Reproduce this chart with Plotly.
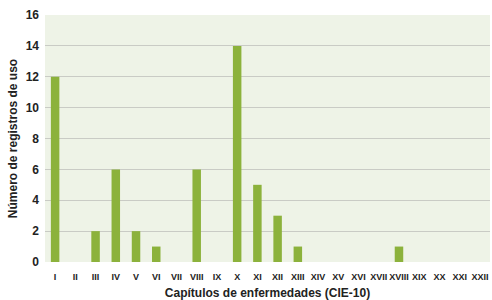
import plotly.graph_objects as go

categories = ["I","II","III","IV","V","VI","VII","VIII","IX","X","XI","XII","XIII","XIV","XV","XVI","XVII","XVIII","XIX","XX","XXI","XXII"]
values = [12,0,2,6,2,1,0,6,0,14,5,3,1,0,0,0,0,1,0,0,0,0]
y_ticks = [0,2,4,6,8,10,12,14,16]

font_fam = "Liberation Sans Narrow, Arial Narrow, Liberation Sans, Arial, sans-serif"

fig = go.Figure(go.Bar(
    x=categories, y=values,
    marker=dict(color="#8cb23c", line=dict(width=0)),
    width=0.42,
))

fig.update_layout(
    width=492, height=300,
    margin=dict(l=45, r=2, t=15, b=38),
    paper_bgcolor="white",
    plot_bgcolor="#eef3e7",
    font=dict(family=font_fam, size=11, color="#222222"),
    showlegend=False,
    xaxis=dict(
        title=dict(text="<b>Capítulos de enfermedades (CIE-10)</b>", font=dict(size=12), standoff=8),
        tickfont=dict(size=9), tickangle=0, automargin=False, ticklabelstandoff=8,
        tickmode="array", tickvals=categories, ticktext=[f"<b>{c}</b>" for c in categories],
        showgrid=False, showline=False, ticks="",
    ),
    yaxis=dict(
        title=dict(text="<b>Número de registros de uso</b>", font=dict(size=12), standoff=5),
        range=[0, 16], automargin=False, ticklabelstandoff=5,
        tickmode="array", tickvals=y_ticks, ticktext=[f"<b>{v}</b>" for v in y_ticks],
        tickfont=dict(size=12),
        showgrid=True, gridcolor="#c9cbc5", gridwidth=1,
        zeroline=False, showline=False, ticks="",
    ),
)

fig.write_html("out.html", config={"displayModeBar": False},
               post_script="document.body.style.margin='0';document.body.style.padding='0';document.body.style.overflow='hidden';")
